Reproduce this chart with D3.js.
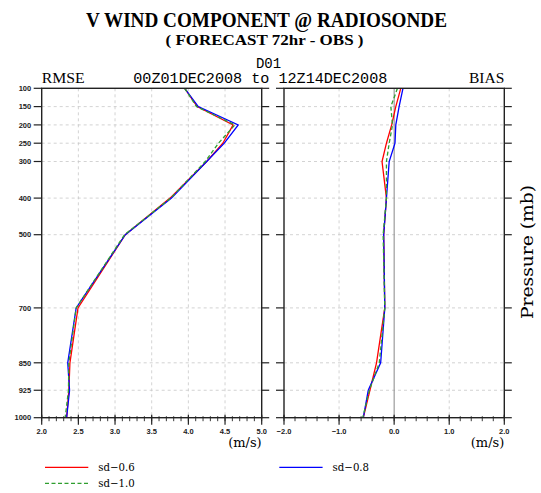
<!DOCTYPE html>
<html><head><meta charset="utf-8">
<script src="https://cdn.jsdelivr.net/npm/d3@7"></script>
<style>body{margin:0;background:#fff;}svg{display:block;}</style>
</head><body>
<script>
const levels = [100,150,200,250,300,400,500,700,850,925,1000];
const rmse06 = [3.95,4.12,4.61,4.47,4.25,3.75,3.14,2.495,2.385,2.37,2.34];
const rmse08 = [3.95,4.135,4.68,4.49,4.25,3.77,3.14,2.47,2.355,2.38,2.34];
const rmse10 = [3.95,4.11,4.635,4.41,4.23,3.76,3.13,2.47,2.37,2.365,2.32];
const bias06 = [0.12,0.03,-0.045,-0.14,-0.22,-0.14,-0.19,-0.17,-0.32,-0.44,-0.56];
const bias08 = [0.16,0.09,0.03,0.015,-0.09,-0.14,-0.19,-0.17,-0.245,-0.47,-0.56];
const bias10 = [0.06,-0.06,-0.03,-0.09,-0.14,-0.14,-0.2,-0.17,-0.27,-0.45,-0.57];
const seriesNames = ["sd\u22120.6","sd\u22120.8","sd\u22121.0"];
const rmseTicks = [2.0,2.5,3.0,3.5,4.0,4.5,5.0];
const biasTicks = [-2.0,-1.0,0.0,1.0,2.0];

const W=541,H=493;
const svg=d3.select("body").append("svg").attr("width",W).attr("height",H);
const y=d3.scaleLinear().domain([100,1000]).range([88.3,417.7]);
const xL=d3.scaleLinear().domain([2,5]).range([41.7,261.7]);
const xR=d3.scaleLinear().domain([-2,2]).range([284,504.3]);
const axisCol="#222";
const styles=[{c:"#ff0000",d:null},{c:"#0000ff",d:null},{c:"#2f9e2f",d:"4,2.5"}];

// titles
svg.append("text").attr("x",266.5).attr("y",27).attr("text-anchor","middle")
  .attr("font-family","Liberation Serif").attr("font-weight","bold").attr("font-size",22)
  .attr("textLength",361).attr("lengthAdjust","spacingAndGlyphs").text("V WIND COMPONENT @ RADIOSONDE");
svg.append("text").attr("x",264.5).attr("y",45).attr("text-anchor","middle")
  .attr("font-family","Liberation Serif").attr("font-weight","bold").attr("font-size",15)
  .attr("textLength",198).attr("lengthAdjust","spacingAndGlyphs").text("( FORECAST 72hr - OBS )");
svg.append("text").attr("x",41.7).attr("y",82.7).attr("font-family","Liberation Serif").attr("font-size",15.5)
  .attr("textLength",43).attr("lengthAdjust","spacingAndGlyphs").text("RMSE");
svg.append("text").attr("x",504.3).attr("y",82.7).attr("text-anchor","end").attr("font-family","Liberation Serif").attr("font-size",15.5)
  .text("BIAS");
svg.append("text").attr("x",133.3).attr("y",82.7).attr("font-family","Liberation Mono").attr("font-size",14.5)
  .attr("textLength",254).attr("lengthAdjust","spacingAndGlyphs").text("00Z01DEC2008 to 12Z14DEC2008");
svg.append("text").attr("x",268.5).attr("y",68).attr("text-anchor","middle").attr("font-family","Liberation Mono").attr("font-size",14)
  .text("D01");

function panel(x, ticks, minorStep, gridVals, zeroLine, series, showYLabels){
  const g=svg.append("g");
  const [x0,x1]=x.range();
  const yT=y(100), yB=y(1000);
  levels.filter(l=>l!==100&&l!==1000).forEach(l=>{
    g.append("line").attr("x1",x0).attr("x2",x1).attr("y1",y(l)).attr("y2",y(l))
      .attr("stroke","#c8c8c8").attr("stroke-width",0.8).attr("stroke-dasharray","3,3");
  });
  gridVals.forEach(v=>{
    g.append("line").attr("x1",x(v)).attr("x2",x(v)).attr("y1",yT).attr("y2",yB)
      .attr("stroke","#c8c8c8").attr("stroke-width",0.8).attr("stroke-dasharray","3,3");
  });
  if(zeroLine){
    g.append("line").attr("x1",x(0)).attr("x2",x(0)).attr("y1",yT).attr("y2",yB)
      .attr("stroke","#888").attr("stroke-width",1);
  }
  const line=d3.line().x(d=>x(d[0])).y(d=>y(d[1]));
  series.forEach((s,i)=>{
    g.append("path").datum(s.map((v,j)=>[v,levels[j]])).attr("d",line)
      .attr("fill","none").attr("stroke",styles[i].c).attr("stroke-width",1.3)
      .attr("stroke-dasharray",styles[i].d);
  });
  g.append("rect").attr("x",x0).attr("y",yT).attr("width",x1-x0).attr("height",yB-yT)
    .attr("fill","none").attr("stroke",axisCol).attr("stroke-width",1.4);
  levels.forEach(l=>{
    g.append("line").attr("x1",x0-8).attr("x2",x0).attr("y1",y(l)).attr("y2",y(l)).attr("stroke",axisCol).attr("stroke-width",1.2);
    g.append("line").attr("x1",x1).attr("x2",x1+7.5).attr("y1",y(l)).attr("y2",y(l)).attr("stroke",axisCol).attr("stroke-width",1.2);
    if(showYLabels){
      g.append("text").attr("x",x0-10.5).attr("y",y(l)+2.7).attr("text-anchor","end")
        .attr("font-family","Liberation Sans").attr("font-weight","bold").attr("font-size",7.5).attr("fill","#222").text(l);
    }
  });
  const [d0,d1]=x.domain();
  const n=Math.round((d1-d0)/minorStep);
  for(let k=0;k<=n;k++){
    const v=d0+k*minorStep;
    g.append("line").attr("x1",x(v)).attr("x2",x(v)).attr("y1",yB-1.5).attr("y2",yB+3.5).attr("stroke",axisCol).attr("stroke-width",0.9);
  }
  ticks.forEach(v=>{
    g.append("line").attr("x1",x(v)).attr("x2",x(v)).attr("y1",yB-3).attr("y2",yB+7).attr("stroke",axisCol).attr("stroke-width",1.2);
    g.append("text").attr("x",x(v)).attr("y",434).attr("text-anchor","middle")
      .attr("font-family","Liberation Sans").attr("font-weight","bold").attr("font-size",7.5).attr("fill","#222").text(d3.format(".1f")(v));
  });
  svg.append("text").attr("x",x1).attr("y",447).attr("text-anchor","end")
    .attr("font-family","DejaVu Serif").attr("font-size",13).text("(m/s)");
}
panel(xL, rmseTicks, 0.1, [2.5,3.0,3.5,4.0,4.5], false, [rmse06,rmse08,rmse10], true);
panel(xR, biasTicks, 0.2, [-1.0,1.0], true, [bias06,bias08,bias10], false);

svg.append("text").attr("transform","translate(533,252) rotate(-90)").attr("text-anchor","middle")
  .attr("font-family","DejaVu Serif").attr("font-size",16).attr("textLength",134).attr("lengthAdjust","spacingAndGlyphs")
  .text("Pressure (mb)");

const leg=[{i:0,x:45,y:467.3},{i:1,x:279.3,y:467.3},{i:2,x:45,y:483.3}];
leg.forEach(o=>{
  svg.append("line").attr("x1",o.x).attr("x2",o.x+43.3).attr("y1",o.y).attr("y2",o.y)
    .attr("stroke",styles[o.i].c).attr("stroke-width",1.3).attr("stroke-dasharray",styles[o.i].d);
  svg.append("text").attr("x",o.x+53.3).attr("y",o.y+3.6).attr("font-family","DejaVu Serif").attr("font-size",10.2)
    .text(seriesNames[o.i]);
});
</script>
</body></html>
